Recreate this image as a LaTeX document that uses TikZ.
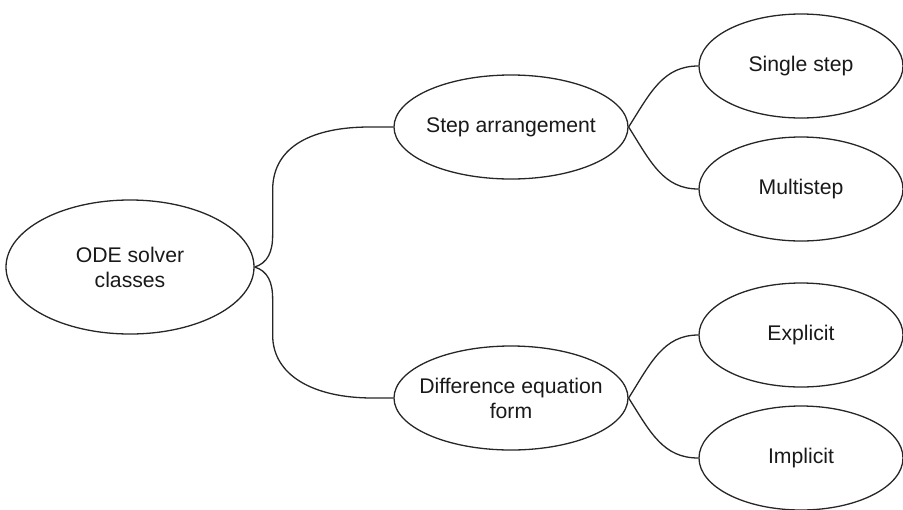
\documentclass[tikz,border=0pt]{standalone}
\usepackage{fontspec}
\setmainfont{Liberation Sans}
\usetikzlibrary{shapes.geometric}
\begin{document}
\begin{tikzpicture}[x=0.5pt,y=-0.5pt,
  oval/.style={ellipse,draw=black!85,line width=0.65pt,inner xsep=-10pt,inner ysep=0pt,
    text=black!90,align=center,font=\fontsize{10.6}{12.5}\selectfont},
  rootoval/.style={oval,minimum width=124pt,minimum height=67pt},
  midoval/.style={oval,minimum width=117pt,minimum height=52pt},
  leafoval/.style={oval,minimum width=102pt,minimum height=52pt},
  link/.style={draw=black!85,line width=0.65pt}]
\useasboundingbox (0,0) rectangle (903,509);
\node[rootoval] (root) at (130,267) {ODE solver\\classes};
\node[midoval] (step) at (511,127) {Step arrangement};
\node[midoval] (diff) at (511,398) {Difference equation\\form};
\node[leafoval] (single) at (801,66) {Single step};
\node[leafoval] (multi) at (801,189) {Multistep};
\node[leafoval] (expl) at (801,335) {Explicit};
\node[leafoval] (impl) at (801,458) {Implicit};
% root to middle
\path[link] (root.east) .. controls +(13,-4) and +(0,17) .. ++(18,-32)
  -- ++(0,-45) .. controls +(0,-45) and +(-55,0) .. ++(97,-63) -- (step.west);
\path[link] (root.east) .. controls +(13,4) and +(0,-17) .. ++(18,32)
  -- ++(0,36) .. controls +(0,40) and +(-60,0) .. ++(100,63) -- (diff.west);
% middle to leaves
\path[link] (step.east) .. controls +(22,-35) and +(-35,0) .. (single.west);
\path[link] (step.east) .. controls +(22,35) and +(-35,0) .. (multi.west);
\path[link] (diff.east) .. controls +(22,-35) and +(-35,0) .. (expl.west);
\path[link] (diff.east) .. controls +(22,35) and +(-35,0) .. (impl.west);
\end{tikzpicture}
\end{document}
